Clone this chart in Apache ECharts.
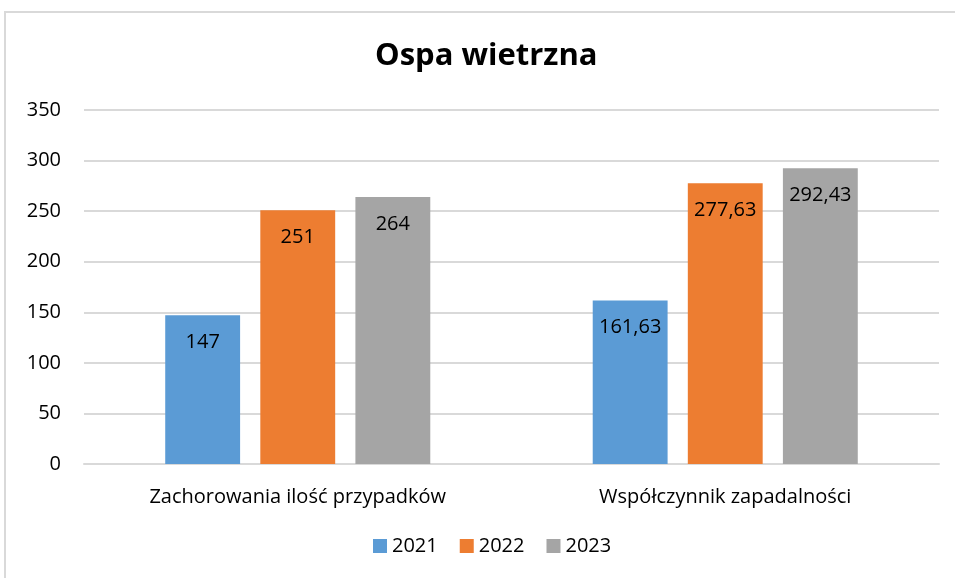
<!DOCTYPE html>
<html>
<head>
<meta charset="utf-8">
<script src="https://cdn.jsdelivr.net/npm/echarts@6/dist/echarts.min.js"></script>
<style>
  html, body { margin: 0; padding: 0; background: #fff; }
  #frame { position: absolute; left: 4px; top: 11px; width: 955px; height: 580px; border: 2px solid #d9d9d9; box-sizing: border-box; }
  #chart { width: 955px; height: 578px; }
</style>
</head>
<body>
<div id="frame"></div>
<div id="chart"></div>
<script>
  // dane
  var categories = ['Zachorowania ilość przypadków', 'Współczynnik zapadalności'];
  var years = ['2021', '2022', '2023'];
  var values2021 = [147, 161.63];
  var values2022 = [251, 277.63];
  var values2023 = [264, 292.43];
  var yTicks = [0, 50, 100, 150, 200, 250, 300, 350];

  var colors = ['#5b9bd5', '#ed7d31', '#a5a5a5'];
  var font = 'Open Sans';

  var chart = echarts.init(document.getElementById('chart'), null, { renderer: 'canvas' });

  function makeSeries(name, data, color) {
    return {
      name: name,
      type: 'bar',
      data: data,
      barGap: '27%',
      barCategoryGap: '38%',
      itemStyle: { color: color },
      label: {
        show: true,
        position: 'insideTop',
        distance: 17,
        color: '#000',
        fontFamily: font,
        fontSize: 20,
        formatter: function (p) { return String(p.value).replace('.', ','); }
      }
    };
  }

  var option = {
    animation: false,
    title: {
      text: 'Ospa wietrzna',
      left: 370,
      top: 36,
      textStyle: { fontFamily: font, fontSize: 31, fontWeight: 'bold', color: '#000' }
    },
    legend: {
      data: years,
      bottom: 17,
      left: 368,
      icon: 'rect',
      itemWidth: 14,
      itemHeight: 14,
      itemGap: 22,
      textStyle: { fontFamily: font, fontSize: 20, color: '#000' }
    },
    grid: { left: 84, right: 16, top: 110, bottom: 114, containLabel: false },
    xAxis: {
      type: 'category',
      data: categories,
      axisLine: { show: true, lineStyle: { color: '#d9d9d9', width: 2 } },
      axisTick: { show: false },
      axisLabel: { fontFamily: font, fontSize: 20, color: '#000', margin: 23 }
    },
    yAxis: {
      type: 'value',
      min: yTicks[0],
      max: yTicks[yTicks.length - 1],
      interval: 50,
      axisLine: { show: false },
      axisTick: { show: false },
      splitLine: { lineStyle: { color: '#d9d9d9', width: 2 } },
      axisLabel: { fontFamily: font, fontSize: 20, color: '#000', margin: 23 }
    },
    series: [
      makeSeries(years[0], values2021, colors[0]),
      makeSeries(years[1], values2022, colors[1]),
      makeSeries(years[2], values2023, colors[2])
    ]
  };

  chart.setOption(option);
</script>
</body>
</html>
